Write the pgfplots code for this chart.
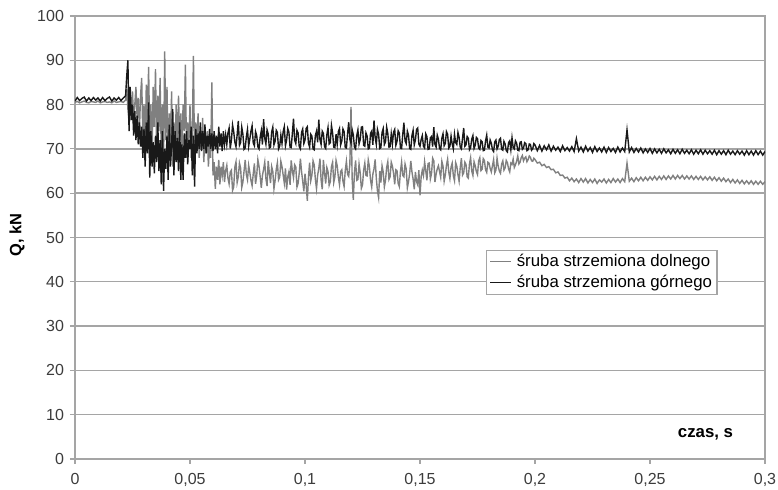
\documentclass[border=0pt]{standalone}
\usepackage{fontspec}
\setmainfont{Liberation Sans}
\usepackage{pgfplots}
\usepackage{pgfplotstable}
\pgfplotsset{compat=1.18}
\usetikzlibrary{calc}

\definecolor{lowgray}{RGB}{128,128,128}
\definecolor{upblack}{RGB}{25,25,25}
\definecolor{gridgray}{RGB}{165,165,165}
\definecolor{ticktext}{RGB}{60,60,60}

% t [s], d = sruba strzemiona dolnego, g = sruba strzemiona gornego [kN]
\pgfplotstableread{
t d g
0.000 80.5 80.8
0.001 80.7 81.6
0.002 80.4 80.9
0.003 80.6 81.4
0.004 80.8 81.7
0.005 80.5 80.8
0.006 80.4 81.5
0.007 80.7 80.9
0.008 80.6 81.6
0.009 80.5 81.0
0.010 80.8 81.5
0.011 80.4 80.8
0.012 80.6 81.6
0.013 80.7 80.9
0.014 80.5 81.4
0.015 80.6 81.7
0.016 80.4 80.8
0.017 80.8 81.5
0.018 80.5 81.0
0.019 80.6 81.6
0.020 80.7 80.9
0.021 80.5 81.5
0.0220 81.0 82.0
0.0225 83.5 86.5
0.0230 79.0 90.0
0.0235 76.0 74.0
0.0240 82.5 84.0
0.0245 78.0 76.5
0.0250 83.0 80.0
0.0255 75.5 73.0
0.0260 80.0 78.5
0.0265 84.0 72.0
0.0270 77.0 77.5
0.0275 81.5 71.0
0.0280 74.0 76.0
0.0285 82.0 70.5
0.0290 86.0 75.0
0.0295 72.0 68.0
0.0300 80.0 74.5
0.0305 70.0 66.0
0.0310 84.5 76.0
0.0315 76.0 69.0
0.0320 88.5 80.5
0.0325 72.0 63.5
0.0330 80.0 74.0
0.0335 68.0 66.0
0.0340 84.0 71.5
0.0345 75.0 64.5
0.0350 88.0 73.0
0.0355 70.0 67.0
0.0360 82.0 76.0
0.0365 74.0 65.0
0.0370 86.0 72.0
0.0375 69.0 62.0
0.0380 80.0 74.0
0.0385 66.0 60.5
0.0390 92.0 70.0
0.0395 72.0 65.5
0.0400 84.0 73.0
0.0405 67.0 63.0
0.0410 78.0 75.5
0.0415 70.0 66.0
0.0420 83.0 70.5
0.0425 66.0 79.0
0.0430 76.0 64.0
0.0435 70.0 74.0
0.0440 80.0 67.0
0.0445 68.0 72.5
0.0450 82.0 65.0
0.0455 72.0 76.0
0.0460 78.0 63.0
0.0465 70.0 71.0
0.0470 80.0 63.0
0.0475 74.0 73.5
0.0480 89.0 68.0
0.0485 68.0 74.0
0.0490 76.0 66.5
0.0495 71.0 72.0
0.0500 80.0 70.0
0.0505 68.0 75.0
0.0510 74.0 64.0
0.0515 91.0 73.0
0.0520 66.0 61.5
0.0525 76.0 74.5
0.0530 70.0 69.0
0.0535 78.0 73.5
0.0540 68.0 70.0
0.0545 74.0 76.0
0.0550 70.0 69.5
0.0555 77.0 74.0
0.0560 67.0 70.0
0.0565 73.0 75.5
0.0570 69.0 69.0
0.0575 74.0 73.0
0.0580 66.0 70.5
0.0585 71.0 74.5
0.0590 68.0 70.0
0.0595 85.0 73.5
0.0600 64.0 69.5
0.0605 67.0 74.0
0.0610 61.0 70.0
0.0615 66.0 73.0
0.0620 63.0 69.0
0.0625 67.5 75.0
0.0630 62.0 70.5
0.0635 66.0 73.5
0.0640 64.0 69.5
0.0645 67.0 74.0
0.0650 62.5 71.0
0.0655 65.1 73.2
0.066 66.3 71.0
0.0665 63.4 73.6
0.067 62.1 74.7
0.0675 64.8 70.1
0.068 65.2 71.9
0.0685 60.6 75.4
0.069 61.4 73.9
0.0695 65.9 71.5
0.070 67.1 70.5
0.0705 62.4 73.2
0.071 63.7 76.3
0.0715 66.8 70.8
0.072 65.7 71.4
0.0725 61.3 74.9
0.073 62.5 73.3
0.0735 65.0 69.9
0.074 67.5 70.2
0.0745 64.2 72.7
0.075 63.0 74.4
0.0755 66.3 70.6
0.076 64.7 72.2
0.0765 62.9 74.0
0.077 61.7 75.2
0.0775 64.4 71.3
0.078 66.7 70.7
0.0785 62.1 73.9
0.079 64.0 73.0
0.0795 67.6 70.5
0.080 66.1 70.0
0.0805 63.8 72.6
0.081 61.2 74.1
0.0815 64.0 71.0
0.082 65.4 76.7
0.0825 67.0 72.4
0.083 63.3 71.1
0.0835 61.6 74.3
0.084 67.3 73.4
0.0845 64.5 70.2
0.085 62.3 70.4
0.0855 66.0 73.8
0.086 64.9 74.9
0.0865 61.0 70.9
0.087 62.8 71.7
0.0875 65.4 74.2
0.088 66.9 73.7
0.0885 63.0 70.0
0.089 63.6 70.6
0.0895 67.2 73.1
0.090 66.0 71.2
0.0905 64.1 73.9
0.091 62.3 75.0
0.0915 65.6 70.7
0.092 60.8 72.0
0.0925 63.7 74.6
0.093 64.8 73.8
0.0935 61.9 70.4
0.094 67.4 70.3
0.0945 65.1 73.5
0.095 63.5 76.8
0.0955 66.4 72.0
0.096 65.9 71.2
0.0965 61.4 74.2
0.097 62.2 73.6
0.0975 64.6 70.5
0.098 67.8 70.0
0.0985 64.9 73.7
0.099 62.7 74.5
0.0995 60.4 71.2
0.100 64.4 72.0
0.1005 62.0 74.6
0.101 58.3 75.0
0.1015 63.5 71.3
0.102 66.9 70.4
0.1025 62.8 73.3
0.103 64.1 72.9
0.1035 67.3 70.0
0.104 66.4 69.8
0.1045 63.2 73.0
0.105 61.0 74.0
0.1055 64.1 71.5
0.106 65.6 76.6
0.1065 67.8 72.1
0.107 63.0 71.0
0.1075 60.9 74.0
0.108 67.5 73.5
0.1085 64.6 70.5
0.109 62.2 70.1
0.1095 65.8 73.2
0.110 64.9 74.8
0.1105 61.8 71.1
0.111 62.6 71.4
0.1115 66.0 75.3
0.112 67.0 73.6
0.1125 62.4 70.4
0.113 63.7 70.3
0.1135 67.4 73.3
0.114 66.2 71.0
0.1145 63.6 73.9
0.115 61.9 74.6
0.1155 64.9 70.9
0.116 65.3 71.8
0.1165 62.7 74.5
0.117 61.5 73.9
0.1175 65.1 70.3
0.118 67.2 70.2
0.1185 64.3 73.4
0.119 63.8 76.0
0.1195 66.5 72.2
0.120 79.5 71.3
0.1205 63.2 74.3
0.121 58.5 73.2
0.1215 64.7 70.4
0.122 67.4 70.0
0.1225 62.9 73.0
0.123 63.1 74.3
0.1235 66.6 71.1
0.124 64.6 72.1
0.1245 61.1 74.9
0.125 61.9 75.0
0.1255 65.2 70.8
0.126 66.8 70.6
0.1265 64.0 73.6
0.127 63.9 72.9
0.1275 67.5 70.0
0.128 66.0 70.2
0.1285 62.9 73.5
0.129 61.4 74.0
0.1295 64.3 70.9
0.130 65.5 76.4
0.1305 67.6 72.6
0.131 63.4 71.0
0.1315 60.5 74.4
0.132 59.0 73.3
0.1325 65.0 70.1
0.133 62.4 70.3
0.1335 66.2 73.7
0.134 64.8 74.6
0.1345 61.4 71.0
0.135 62.9 71.6
0.1355 65.8 74.9
0.136 67.1 73.5
0.1365 63.1 70.4
0.137 63.7 70.5
0.1375 67.0 73.4
0.138 66.1 71.1
0.1385 64.5 73.8
0.139 62.0 74.4
0.1395 65.3 70.8
0.140 65.1 71.7
0.1405 62.2 74.1
0.141 61.5 73.6
0.1415 64.9 70.2
0.142 67.0 70.1
0.1425 64.0 73.3
0.143 63.7 75.9
0.1435 66.6 71.8
0.144 65.5 71.2
0.1445 61.2 74.0
0.145 62.6 73.1
0.1455 64.4 70.1
0.146 67.3 69.9
0.1465 64.8 73.0
0.147 63.2 74.2
0.1475 60.9 70.9
0.148 64.8 72.0
0.1485 62.6 74.4
0.149 61.9 74.7
0.1495 65.2 71.1
0.150 59.5 70.6
0.1505 63.7 72.1
0.151 65.2 73.0
0.1515 64.0 70.6
0.152 67.1 70.2
0.1525 65.1 73.4
0.153 62.9 72.8
0.1535 66.7 69.9
0.154 66.8 70.0
0.1545 63.2 72.5
0.155 64.4 72.8
0.1555 67.9 70.5
0.156 67.3 74.9
0.1565 62.5 71.0
0.157 64.3 70.4
0.1575 65.5 73.1
0.158 66.2 72.2
0.1585 64.9 70.1
0.159 63.6 69.8
0.1595 67.2 72.4
0.160 66.1 73.4
0.1605 62.7 70.7
0.161 64.1 71.2
0.1615 66.3 73.9
0.162 67.7 73.3
0.1625 64.8 70.2
0.163 63.3 70.6
0.1635 65.9 72.9
0.164 66.8 71.1
0.1645 63.9 70.0
0.165 62.8 73.3
0.1655 66.9 71.4
0.166 66.1 71.0
0.1665 64.2 73.7
0.167 62.7 72.6
0.1675 65.8 70.4
0.168 67.9 70.0
0.1685 64.1 72.5
0.169 64.6 74.7
0.1695 67.0 70.6
0.170 66.5 70.9
0.1705 63.7 72.8
0.171 63.4 72.4
0.1715 66.6 69.8
0.172 68.0 70.3
0.1725 65.0 72.2
0.173 64.0 73.0
0.1735 67.1 70.1
0.174 66.2 70.8
0.1745 64.9 72.6
0.175 64.2 72.3
0.1755 67.3 70.2
0.176 68.0 69.9
0.1765 65.1 71.9
0.177 65.4 71.6
0.1775 67.8 69.6
0.178 67.4 69.7
0.1785 65.3 71.8
0.179 64.7 73.1
0.1795 67.0 70.4
0.180 66.8 70.2
0.1805 65.6 72.0
0.181 64.8 71.3
0.1815 66.2 69.8
0.182 67.6 69.4
0.1825 64.6 71.6
0.183 65.2 72.0
0.1835 67.9 70.0
0.184 66.1 70.6
0.1845 65.0 72.1
0.185 64.5 72.4
0.1855 66.6 69.9
0.186 67.3 69.7
0.1865 65.2 71.7
0.187 65.7 71.1
0.1875 67.4 69.6
0.188 66.9 69.3
0.1885 65.5 71.4
0.189 64.8 71.8
0.1895 66.8 69.8
0.190 66.5 72.5
0.1905 67.7 70.3
0.191 65.8 70.0
0.1915 66.4 71.8
0.192 67.2 71.3
0.1925 68.4 69.7
0.193 66.6 69.6
0.1935 67.0 71.5
0.194 68.0 71.6
0.1945 68.5 69.9
0.195 67.3 70.2
0.1955 67.9 71.4
0.196 68.2 71.2
0.1965 67.1 69.6
0.197 67.6 69.8
0.1975 68.4 71.1
0.198 68.1 71.0
0.1985 67.3 69.7
0.199 67.2 70.0
0.1995 67.9 71.2
0.200 67.6 70.9
0.201 66.8 69.6
0.202 67.0 70.8
0.203 66.2 69.5
0.204 66.5 70.7
0.205 65.8 69.8
0.206 66.0 70.9
0.207 65.3 69.5
0.208 65.4 70.6
0.209 64.6 69.7
0.210 64.8 70.4
0.211 64.0 69.4
0.212 64.1 70.7
0.213 63.4 69.6
0.214 63.6 70.3
0.215 62.8 69.5
0.216 63.4 70.5
0.217 62.6 69.4
0.218 63.2 72.3
0.219 62.4 69.5
0.220 63.3 70.4
0.221 62.5 69.3
0.222 63.3 70.6
0.223 62.3 69.5
0.224 63.1 70.3
0.225 62.4 69.2
0.226 63.2 70.5
0.227 62.2 69.4
0.228 63.0 70.2
0.229 62.5 69.3
0.230 63.2 70.4
0.231 62.3 69.2
0.232 63.1 70.3
0.233 62.4 69.4
0.234 63.3 70.1
0.235 62.5 69.2
0.236 63.2 70.4
0.237 62.4 69.3
0.238 63.3 70.2
0.239 62.6 69.4
0.240 66.8 74.3
0.241 62.7 69.3
0.242 63.4 70.3
0.243 62.6 69.2
0.244 63.5 70.1
0.245 62.8 69.3
0.246 63.6 70.2
0.247 62.8 69.1
0.248 63.6 70.0
0.249 62.9 69.2
0.250 63.7 70.1
0.251 63.0 69.0
0.252 63.8 70.0
0.253 63.0 69.1
0.254 63.8 69.9
0.255 63.1 69.0
0.256 63.9 70.0
0.257 63.1 69.1
0.258 63.9 69.8
0.259 63.2 68.9
0.260 64.0 69.9
0.261 63.2 69.0
0.262 64.0 69.8
0.263 63.3 68.9
0.264 64.0 69.9
0.265 63.2 69.0
0.266 63.9 69.7
0.267 63.2 68.9
0.268 63.9 69.8
0.269 63.1 68.8
0.270 63.8 69.7
0.271 63.1 68.9
0.272 63.8 69.8
0.273 63.0 68.8
0.274 63.7 69.7
0.275 63.0 68.9
0.276 63.7 69.6
0.277 62.9 68.8
0.278 63.6 69.7
0.279 62.8 68.7
0.280 63.5 69.6
0.281 62.7 68.8
0.282 63.4 69.6
0.283 62.6 68.7
0.284 63.2 69.7
0.285 62.4 68.8
0.286 63.1 69.5
0.287 62.3 68.7
0.288 63.0 69.6
0.289 62.2 68.8
0.290 62.9 69.5
0.291 62.1 68.6
0.292 62.8 69.6
0.293 62.1 68.7
0.294 62.8 69.5
0.295 62.0 68.6
0.296 62.7 69.6
0.297 62.0 68.7
0.298 62.7 69.5
0.299 62.0 68.6
0.300 62.6 69.4
}\measured

\begin{document}
\begin{tikzpicture}
\begin{axis}[
  scale only axis,
  width=345pt, height=221.5pt,
  xmin=0, xmax=0.3, ymin=0, ymax=100,
  enlargelimits=false,
  xtick={0,0.05,0.1,0.15,0.2,0.25,0.3},
  xticklabels={0,{0,05},{0,1},{0,15},{0,2},{0,25},{0,3}},
  ytick={0,10,20,30,40,50,60,70,80,90,100},
  yticklabels={0,10,20,30,40,50,60,70,80,90,100},
  scaled x ticks=false,
  xtick pos=bottom, ytick pos=left,
  tick align=outside,
  major tick length=2.5pt,
  tick style={gridgray, line width=0.6pt},
  axis line style={gridgray, line width=0.7pt},
  ymajorgrids,
  grid style={gridgray, line width=0.7pt},
  ticklabel style={font=\fontsize{8}{9}\selectfont, text=ticktext},
  xticklabel style={yshift=-1pt},
  yticklabel style={xshift=0.5pt},
  xlabel={czas, s},
  xlabel style={at={(axis description cs:0.9138,0.0564)}, anchor=center,
    font=\fontsize{8.4}{10}\selectfont\bfseries},
  ylabel={Q, kN},
  ylabel style={at={(axis description cs:-0.084,0.5056)}, anchor=center,
    font=\fontsize{8.2}{10}\selectfont\bfseries},
  legend style={at={(axis description cs:0.5957,0.4718)}, anchor=north west,
    draw=gridgray, line width=0.6pt, fill=white,
    font=\fontsize{8.4}{10}\selectfont, inner xsep=1.5pt, inner ysep=0.8pt,
    nodes={inner sep=1pt}, row sep=0.8pt, cells={anchor=west},
    /tikz/every odd column/.append style={column sep=1.5pt}},
  legend image code/.code={\draw[#1, line width=0.6pt] (0pt,0pt) -- (10.5pt,0pt);},
]
\addplot[lowgray, line width=0.7pt] table[x=t, y=d] {\measured};
\addlegendentry{śruba strzemiona dolnego}
\addplot[upblack, line width=0.7pt] table[x=t, y=g] {\measured};
\addlegendentry{śruba strzemiona górnego}
\coordinate (ll) at (rel axis cs:0,0);
\coordinate (ur) at (rel axis cs:1,1);
\end{axis}
\pgfresetboundingbox
\path[use as bounding box] ($(ll)+(-37.5pt,-15.5pt)$) rectangle ($(ur)+(6.5pt,8pt)$);
\end{tikzpicture}
\end{document}
